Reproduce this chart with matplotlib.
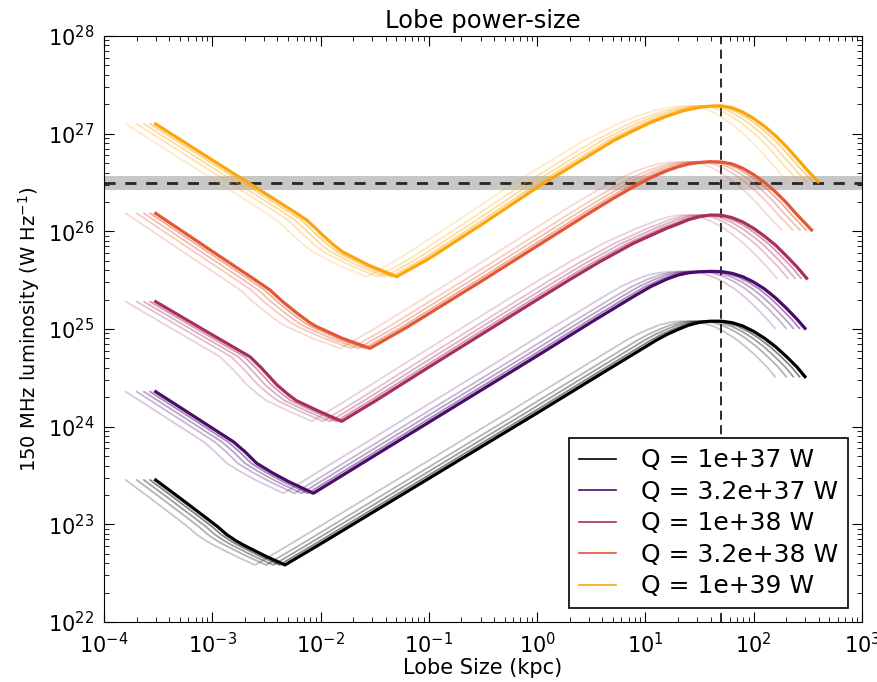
import numpy as np
import matplotlib
matplotlib.use("Agg")
import matplotlib.pyplot as plt
from matplotlib.lines import Line2D

# Jet powers (W) and legend labels
powers = [1e37, 3.2e37, 1e38, 3.2e38, 1e39]
labels = ["Q = 1e+37 W", "Q = 3.2e+37 W", "Q = 1e+38 W", "Q = 3.2e+38 W", "Q = 1e+39 W"]

# Reference tracks: log10 lobe size (kpc) and log10 150 MHz luminosity (W/Hz)
logsize_q37 = [-3.523, -3.3, -3.052, -2.95, -2.867, -2.78, -2.714, -2.6, -2.498, -2.329,
               -2.0, -1.5, -1.0, -0.5, 0.0, 0.5, 0.888, 1.103, 1.2, 1.3, 1.4, 1.5, 1.6,
               1.7, 1.8, 1.9, 2.0, 2.1, 2.2, 2.3, 2.4, 2.473]
loglum_q37 = [23.454, 23.27, 23.062, 22.975, 22.895, 22.83, 22.789, 22.725, 22.669, 22.584,
              22.80, 23.135, 23.47, 23.805, 24.14, 24.48, 24.742, 24.887, 24.945, 24.995,
              25.04, 25.068, 25.08, 25.08, 25.065, 25.03, 24.975, 24.905, 24.82, 24.72,
              24.61, 24.512]

logsize_q37_5 = [-3.523, -3.2, -2.806, -2.7, -2.590, -2.45, -2.3, -2.067, -1.8, -1.5, -1.0,
                 -0.5, 0.0, 0.5, 0.888, 1.05, 1.196, 1.3, 1.4, 1.5, 1.6, 1.7, 1.8, 1.9, 2.0,
                 2.1, 2.2, 2.3, 2.4, 2.473]
loglum_q37_5 = [24.358, 24.128, 23.846, 23.745, 23.625, 23.53, 23.44, 23.318, 23.50, 23.705,
                24.045, 24.385, 24.725, 25.07, 25.331, 25.435, 25.51, 25.552, 25.576, 25.586,
                25.59, 25.588, 25.57, 25.535, 25.48, 25.41, 25.32, 25.215, 25.10, 25.007]

logsize_q38 = [-3.523, -3.0, -2.652, -2.55, -2.405, -2.3, -2.221, -2.0, -1.805, -1.5, -1.0,
               -0.5, 0.0, 0.3, 0.58, 0.888, 1.196, 1.3, 1.4, 1.5, 1.6, 1.7, 1.8, 1.9, 2.0,
               2.1, 2.2, 2.3, 2.4, 2.489]
loglum_q38 = [25.280, 24.94, 24.716, 24.605, 24.43, 24.33, 24.265, 24.15, 24.055, 24.26,
              24.61, 24.955, 25.30, 25.505, 25.69, 25.877, 26.031, 26.075, 26.12, 26.15,
              26.167, 26.165, 26.14, 26.095, 26.03, 25.95, 25.86, 25.75, 25.635, 25.519]

logsize_q38_5 = [-3.523, -3.0, -2.6, -2.467, -2.35, -2.221, -2.1, -2.036, -1.8, -1.544, -1.2,
                 -0.5, 0.0, 0.5, 0.7, 0.888, 1.05, 1.196, 1.3, 1.4, 1.5, 1.6, 1.7, 1.8, 1.9,
                 2.0, 2.1, 2.2, 2.3, 2.4, 2.534]
loglum_q38_5 = [26.184, 25.795, 25.50, 25.399, 25.28, 25.165, 25.065, 25.024, 24.905, 24.802,
                25.02, 25.50, 25.85, 26.20, 26.335, 26.455, 26.55, 26.62, 26.66, 26.69,
                26.705, 26.713, 26.71, 26.69, 26.645, 26.58, 26.50, 26.405, 26.295, 26.17,
                26.014]

logsize_q39 = [-3.523, -3.0, -2.5, -2.25, -2.128, -2.05, -1.975, -1.88, -1.79, -1.55, -1.297,
               -1.0, -0.5, 0.0, 0.5, 0.7, 0.888, 1.05, 1.2, 1.35, 1.5, 1.6, 1.7, 1.8, 1.9,
               2.0, 2.1, 2.2, 2.3, 2.4, 2.5, 2.596]
loglum_q39 = [27.099, 26.73, 26.38, 26.205, 26.115, 26.035, 25.955, 25.86, 25.785, 25.65,
              25.536, 25.72, 26.08, 26.45, 26.79, 26.925, 27.03, 27.115, 27.18, 27.235,
              27.27, 27.282, 27.285, 27.265, 27.22, 27.155, 27.075, 26.98, 26.87, 26.745,
              26.62, 26.508]

tracks_logsize = [logsize_q37, logsize_q37_5, logsize_q38, logsize_q38_5, logsize_q39]
tracks_loglum = [loglum_q37, loglum_q37_5, loglum_q38, loglum_q38_5, loglum_q39]

# Companion tracks: size scaling relative to the reference track, and their opacity
companion_size_scale = [0.53, 0.67, 0.78, 0.89]
companion_alpha = [0.22, 0.3, 0.38, 0.48]

# Survey luminosity limit and its uncertainty band (W/Hz), fiducial size (kpc)
lum_limit = 3.1e26
lum_band = [2.65e26, 3.65e26]
size_marker = 50.0

colors = plt.cm.inferno([0.0, 0.22, 0.45, 0.62, 0.8])

plt.rcParams.update({
    "font.family": "DejaVu Sans",
    "xtick.direction": "in",
    "ytick.direction": "in",
    "xtick.top": True,
    "ytick.right": True,
    "xtick.major.size": 7,
    "ytick.major.size": 7,
    "xtick.minor.size": 3.5,
    "ytick.minor.size": 3.5,
    "xtick.minor.visible": True,
    "ytick.minor.visible": True,
})

fig = plt.figure(figsize=(8.77, 6.82), dpi=100)
ax = fig.add_axes([104 / 877, 1 - 622 / 682, 758 / 877, 586 / 682])

ax.axhspan(lum_band[0], lum_band[1], color="0.78", lw=0, zorder=1)
ax.axhline(lum_limit, color="0.15", ls=(0, (4, 3.5)), lw=2.0, zorder=2)
ax.axvline(size_marker, color="0.1", ls=(0, (5, 3)), lw=1.3, zorder=2)

for ls_, ll_, col in zip(tracks_logsize, tracks_loglum, colors):
    size = 10 ** np.array(ls_)
    lum = 10 ** np.array(ll_)
    for fac, alp in zip(companion_size_scale, companion_alpha):
        ax.plot(size * fac, lum, color=col, lw=1.3, alpha=alp, zorder=3)
    ax.plot(size, lum, color=col, lw=2.3, zorder=4)

ax.set_xscale("log")
ax.set_yscale("log")
ax.set_xlim(1e-4, 1e3)
ax.set_ylim(1e22, 1e28)
ax.tick_params(labelsize=15, pad=7)

ax.set_title("Lobe power-size", fontsize=17.5, pad=6)
ax.set_xlabel("Lobe Size (kpc)", fontsize=15, labelpad=1)
ax.set_ylabel("150 MHz luminosity (W Hz$^{-1}$)", fontsize=14)

handles = [Line2D([0], [0], color=c, lw=1.2) for c in colors]
leg = ax.legend(handles, labels, loc="lower right", fontsize=18, frameon=True,
                fancybox=False, framealpha=1, edgecolor="black",
                handlelength=1.5, handletextpad=1.0, labelspacing=0.3,
                borderaxespad=0.55)
leg.get_frame().set_linewidth(1.2)

fig.savefig("out.png", dpi=100)
